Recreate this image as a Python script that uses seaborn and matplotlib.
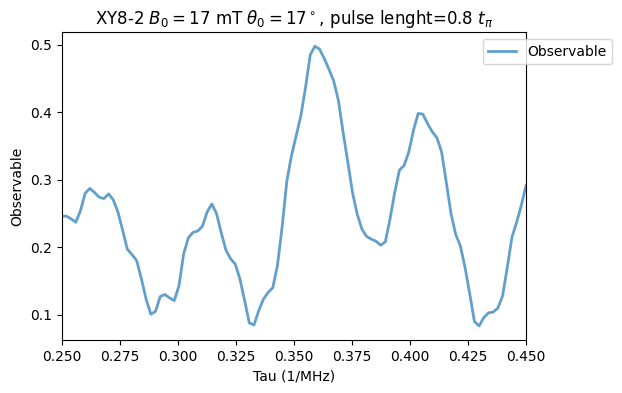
import numpy as np
import pandas as pd
import seaborn as sns
import matplotlib.pyplot as plt

# sampling grid of tau (1/MHz)
tau = np.linspace(0.25, 0.45, 100)

observable = [
    0.246, 0.246, 0.242, 0.237, 0.254, 0.280, 0.287, 0.281, 0.274, 0.272,
    0.279, 0.270, 0.252, 0.225, 0.197, 0.189, 0.180, 0.153, 0.123, 0.101,
    0.105, 0.127, 0.130, 0.125, 0.121, 0.143, 0.190, 0.214, 0.222, 0.224,
    0.231, 0.252, 0.264, 0.250, 0.222, 0.196, 0.183, 0.175, 0.153, 0.121,
    0.088, 0.085, 0.106, 0.123, 0.133, 0.140, 0.173, 0.230, 0.298, 0.336,
    0.365, 0.395, 0.437, 0.485, 0.4975, 0.493, 0.479, 0.463, 0.446, 0.417,
    0.370, 0.326, 0.281, 0.249, 0.227, 0.216, 0.212, 0.209, 0.203, 0.208,
    0.2415, 0.281, 0.314, 0.321, 0.341, 0.373, 0.398, 0.397, 0.383, 0.371,
    0.362, 0.341, 0.296, 0.250, 0.219, 0.202, 0.170, 0.131, 0.090, 0.0835,
    0.096, 0.103, 0.104, 0.110, 0.128, 0.170, 0.215, 0.237, 0.262, 0.2915,
]

df = pd.DataFrame({"tau": tau, "Observable": observable})

fig, ax = plt.subplots(figsize=(6.22, 3.93), dpi=100)
fig.subplots_adjust(left=0.0992, right=0.8457, bottom=0.135, top=0.918)

sns.lineplot(data=df, x="tau", y="Observable", ax=ax, color="tab:blue",
             alpha=0.7, linewidth=2, label="Observable")

ax.set_xlim(0.25, 0.45)
ax.set_xlabel("Tau (1/MHz)")
ax.set_ylabel("Observable")
ax.set_title(r"XY8-2 $B_0 = 17$ mT $\theta_0 = 17^\circ$, pulse lenght=0.8 $t_\pi$")
ax.legend(loc="upper right", bbox_to_anchor=(1.2, 1))

plt.savefig("out.png", dpi=100)
